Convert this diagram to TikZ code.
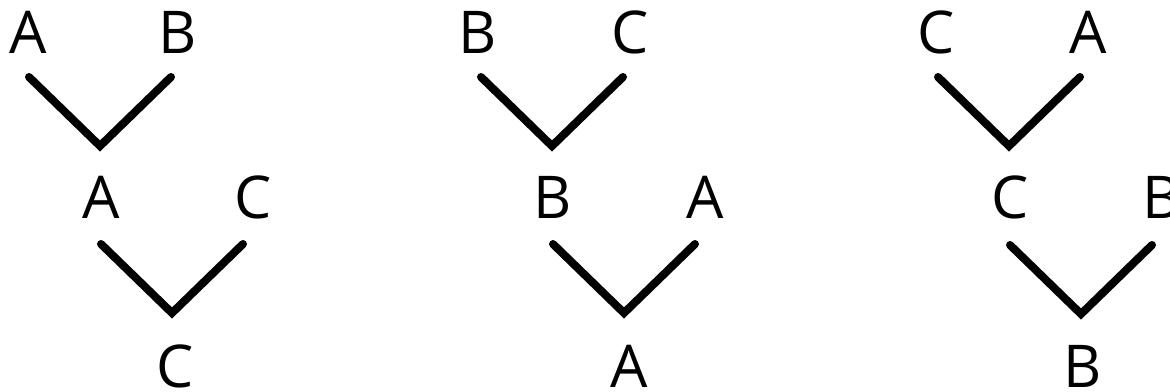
\documentclass[tikz,border=0pt]{standalone}
\usepackage{fontspec}
\setmainfont{Open Sans}
\begin{document}
\begin{tikzpicture}[x=1pt,y=-1pt,
  lbl/.style={inner sep=0pt,anchor=base,font=\fontsize{59}{59}\selectfont},
  vee/.style={line width=8pt,line cap=round,line join=miter}]
\useasboundingbox (0,0) rectangle (1170,391);
% group 1
\node[lbl] (a1) at (28,53) {A};
\node[lbl] (b1) at (178,53) {B};
\node[lbl] (a2) at (101,218) {A};
\node[lbl] (c2) at (253,218) {C};
\node[lbl] (c3) at (175,387) {C};
\coordinate (g1l) at (29,77); \coordinate (g1v) at (100,146); \coordinate (g1r) at (171,77);
\coordinate (g1l2) at (101,244); \coordinate (g1v2) at (172,313); \coordinate (g1r2) at (243,244);
\draw[vee] (g1l) -- (g1v) -- (g1r);
\draw[vee] (g1l2) -- (g1v2) -- (g1r2);
% group 2
\node[lbl] (b4) at (478,53) {B};
\node[lbl] (c4) at (630,53) {C};
\node[lbl] (b5) at (553,218) {B};
\node[lbl] (a5) at (705,218) {A};
\node[lbl] (a6) at (629,387) {A};
\coordinate (g2l) at (481,77); \coordinate (g2v) at (552,146); \coordinate (g2r) at (623,77);
\coordinate (g2l2) at (553,244); \coordinate (g2v2) at (624,313); \coordinate (g2r2) at (695,244);
\draw[vee] (g2l) -- (g2v) -- (g2r);
\draw[vee] (g2l2) -- (g2v2) -- (g2r2);
% group 3
\node[lbl] (c7) at (936,53) {C};
\node[lbl] (a7) at (1088,53) {A};
\node[lbl] (c8) at (1010,218) {C};
\node[lbl] (b8) at (1162,218) {B};
\node[lbl] (b9) at (1083,387) {B};
\coordinate (g3l) at (938,77); \coordinate (g3v) at (1009,146); \coordinate (g3r) at (1080,77);
\coordinate (g3l2) at (1010,245); \coordinate (g3v2) at (1081,314); \coordinate (g3r2) at (1152,245);
\draw[vee] (g3l) -- (g3v) -- (g3r);
\draw[vee] (g3l2) -- (g3v2) -- (g3r2);
\end{tikzpicture}
\end{document}
